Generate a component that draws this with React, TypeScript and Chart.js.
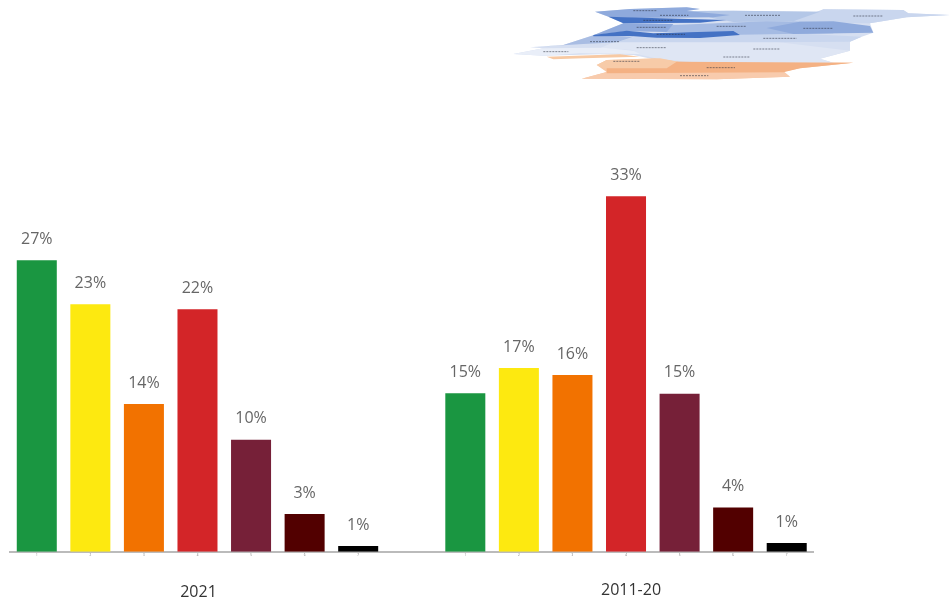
import React, { useEffect, useRef } from "react";
import { Chart, registerables } from "chart.js";

Chart.register(...registerables);

const categories = ["1", "2", "3", "4", "5", "6", "7", "", "1", "2", "3", "4", "5", "6", "7"];
const shares = [27.05, 22.96, 13.7, 22.5, 10.4, 3.5, 0.52, null, 14.7, 17.05, 16.4, 33, 14.65, 4.1, 0.8];
const shareLabels = ["27%", "23%", "14%", "22%", "10%", "3%", "1%", "", "15%", "17%", "16%", "33%", "15%", "4%", "1%"];
const barColors = ["#1a9641", "#fde910", "#f27200", "#d32528", "#762038", "#520000", "#000000", "#ffffff",
  "#1a9641", "#fde910", "#f27200", "#d32528", "#762038", "#520000", "#000000"];
const groupNames = ["2021", "2011-20"];

type P = [number, number];
const blueOutline: P[] = [[285, 35], [390, 27], [560, 22], [600, 27], [560, 33], [700, 32], [960, 35], [970, 28], [1210, 30], [1225, 40], [1350, 45], [1220, 52], [1110, 70], [1120, 98], [1085, 110], [1050, 125], [1050, 152], [960, 176], [1000, 188], [500, 186], [400, 165], [300, 163], [130, 167], [40, 162], [130, 145], [90, 142], [190, 135], [280, 106], [370, 70], [325, 50]];
const orangeOutline: P[] = [[320, 180], [480, 175], [530, 185], [1060, 188], [900, 205], [850, 215], [870, 230], [650, 238], [245, 236], [320, 216], [290, 195]];
const regionColors = ["#d6dff1", "#f7c9a6", "#dfe6f4", "#e9eef8", "#c9d6ee", "#c9d6ee", "#b4c7e7", "#a5bbe3", "#8faadc", "#8faadc", "#a9bde3", "#8faadc", "#4472c4", "#4472c4", "#f8cbad", "#f7c9a3", "#f7cba8", "#f4b183"];
const regions: P[][] = [
  blueOutline,
  orangeOutline,
  [[300, 145], [350, 122], [800, 122], [1050, 152], [960, 176], [1000, 188], [600, 188], [480, 178], [400, 160], [400, 150]],
  [[40, 162], [130, 145], [310, 143], [400, 152], [420, 162], [240, 160], [130, 167]],
  [[400, 112], [720, 102], [850, 98], [1085, 110], [1050, 125], [800, 127], [350, 127]],
  [[880, 62], [970, 28], [1210, 30], [1225, 40], [1350, 45], [1220, 52], [1110, 70], [870, 68]],
  [[560, 33], [700, 32], [960, 35], [880, 64], [700, 66], [640, 55]],
  [[500, 76], [800, 64], [1000, 66], [1000, 100], [850, 102], [720, 104], [500, 96]],
  [[800, 84], [900, 65], [1000, 64], [1110, 78], [1120, 98], [880, 102]],
  [[285, 35], [390, 27], [560, 22], [600, 27], [560, 33], [690, 45], [640, 52], [400, 54], [330, 52]],
  [[90, 142], [190, 135], [280, 106], [400, 110], [350, 127], [250, 132]],
  [[370, 70], [520, 72], [500, 96], [380, 94], [280, 106]],
  [[325, 50], [480, 55], [680, 60], [600, 68], [370, 70]],
  [[280, 105], [380, 92], [460, 100], [700, 93], [720, 105], [600, 114], [470, 113], [390, 108], [280, 109]],
  [[245, 236], [320, 216], [850, 213], [870, 230], [650, 238]],
  [[140, 170], [360, 163], [420, 170], [250, 175], [160, 178]],
  [[320, 180], [480, 175], [535, 185], [510, 207], [320, 207], [290, 195]],
  [[530, 185], [1060, 188], [900, 205], [850, 217], [320, 220], [320, 205], [500, 205]],
];
const labelStrokes: P[][] = [
  [[400, 32], [470, 32]], [[480, 46], [565, 46]], [[430, 61], [520, 61]], [[410, 82], [500, 82]],
  [[650, 79], [740, 79]], [[470, 103], [555, 103]], [[910, 85], [1000, 85]], [[270, 125], [360, 125]],
  [[410, 143], [500, 143]], [[130, 155], [205, 155]], [[735, 46], [840, 46]], [[1060, 48], [1150, 48]],
  [[790, 115], [890, 115]], [[760, 147], [840, 147]], [[670, 171], [750, 171]], [[340, 184], [420, 184]],
  [[620, 203], [705, 203]], [[540, 227], [625, 227]],
];

const barLabelPlugin = {
  id: "barLabels",
  afterDatasetsDraw(chart: any) {
    const { ctx, scales } = chart;
    const meta = chart.getDatasetMeta(0);
    ctx.save();
    ctx.font = "16px 'Open Sans'";
    ctx.fillStyle = "#666666";
    ctx.textAlign = "center";
    ctx.textBaseline = "middle";
    meta.data.forEach((bar: any, i: number) => {
      if (shareLabels[i]) ctx.fillText(shareLabels[i], bar.x, bar.y - 21);
    });
    ctx.fillStyle = "#333333";
    ctx.fillText(groupNames[0], scales.x.getPixelForValue(3) + 1, 592);
    ctx.fillText(groupNames[1], scales.x.getPixelForValue(11) + 5, 590);
    ctx.restore();
  },
};

const polygonPlugin = {
  id: "polygons",
  beforeDatasetsDraw(chart: any) {
    const { ctx } = chart;
    chart.data.datasets.forEach((ds: any, i: number) => {
      if (!ds.isRegion) return;
      const pts = chart.getDatasetMeta(i).data;
      ctx.save();
      ctx.fillStyle = ds.backgroundColor;
      ctx.beginPath();
      pts.forEach((p: any, k: number) => (k ? ctx.lineTo(p.x, p.y) : ctx.moveTo(p.x, p.y)));
      ctx.closePath();
      ctx.fill();
      ctx.restore();
    });
  },
};

export default function App() {
  const barRef = useRef<HTMLCanvasElement>(null);
  const mapRef = useRef<HTMLCanvasElement>(null);

  useEffect(() => {
    const bars = new Chart(barRef.current!, {
      type: "bar",
      data: {
        labels: categories,
        datasets: [{ data: shares as any, backgroundColor: barColors, barPercentage: 0.747, categoryPercentage: 1 }],
      },
      options: {
        responsive: false,
        animation: false,
        layout: { padding: { left: 10, right: 136.5, top: 13, bottom: 0 } },
        plugins: { legend: { display: false }, tooltip: { enabled: false } },
        scales: {
          x: {
            grid: { display: false, drawTicks: false, tickLength: 0 },
            border: { color: "#bbbbbb", width: 2 },
            ticks: { font: { size: 3, family: "'Open Sans'" }, color: "#777777", padding: 2, maxRotation: 0, autoSkip: false },
            afterFit: (s: any) => { s.height = 50.3; },
          },
          y: { display: false, min: 0, max: 50 },
        },
      },
      plugins: [barLabelPlugin],
    });

    const regionSets = regions.map((r, i) => ({
      isRegion: true,
      data: r.map(([x, y]) => ({ x, y })),
      backgroundColor: regionColors[i],
      pointRadius: 0,
      showLine: false,
    }));
    const strokeSets = labelStrokes.map((s) => ({
      data: s.map(([x, y]) => ({ x, y })),
      borderColor: "rgba(40,45,60,0.7)",
      borderWidth: 0.8,
      pointRadius: 0,
      showLine: true,
      borderDash: [2, 1],
    }));

    const map = new Chart(mapRef.current!, {
      type: "scatter",
      data: { datasets: [...regionSets, ...strokeSets] as any },
      options: {
        responsive: false,
        animation: false,
        layout: { padding: 0 },
        plugins: { legend: { display: false }, tooltip: { enabled: false } },
        scales: {
          x: { display: false, min: 0, max: 1350 },
          y: { display: false, min: 0, max: 270, reverse: true },
        },
      },
      plugins: [polygonPlugin],
    });

    return () => {
      bars.destroy();
      map.destroy();
    };
  }, []);

  return (
    <div style={{ position: "fixed", left: 0, top: 0, width: 950, height: 602, background: "#fff" }}>
      <canvas ref={barRef} width={950} height={602} style={{ position: "absolute", left: 0, top: 0 }} />
      <canvas ref={mapRef} width={450} height={90} style={{ position: "absolute", left: 500, top: 0, filter: "blur(0.6px)" }} />
    </div>
  );
}
